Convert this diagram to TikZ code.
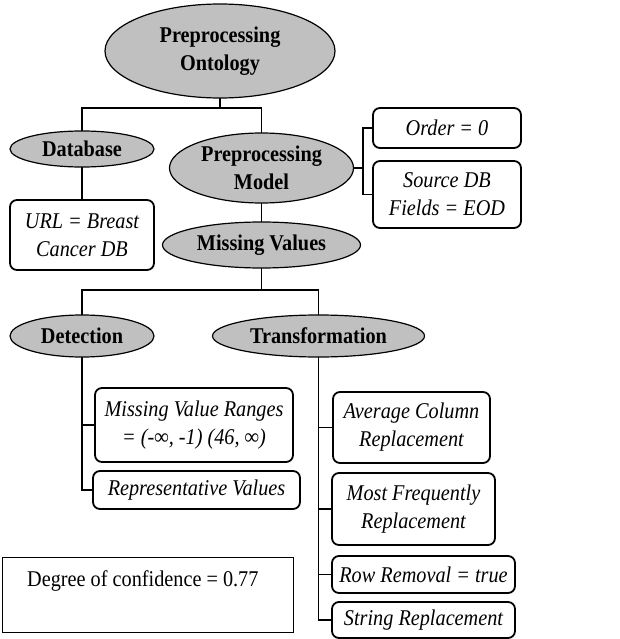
\documentclass[tikz,border=0pt]{standalone}
\usepackage{fontspec}
\setmainfont[FakeStretch=0.9]{Liberation Serif}
\usetikzlibrary{shapes.geometric}
\definecolor{ellfill}{HTML}{C0C0C0}
\tikzset{
  ell/.style={ellipse, draw=black, line width=1.2pt, fill=ellfill, inner sep=0pt, align=center,
     font=\fontsize{22.5}{28}\selectfont\bfseries},
  rbox/.style={rectangle, rounded corners=7pt, draw=black, line width=1.8pt, fill=white, inner sep=0pt, align=center,
     font=\fontsize{22.5}{28}\selectfont\itshape},
  conn/.style={line width=1.8pt, line cap=rect},
  plainbox/.style={rectangle, draw=black, line width=1pt, inner sep=0pt},
  plaintext/.style={inner sep=0pt, font=\fontsize{22.5}{28}\selectfont}
}
\begin{document}
\begin{tikzpicture}[x=1pt,y=-1pt]
\useasboundingbox (0,0) rectangle (619,639);
% ellipses
\node[ell, minimum width=230pt, minimum height=94pt] (ont) at (220,51) {Preprocessing\\Ontology};
\node[ell, minimum width=144pt, minimum height=36pt] (db) at (82,149) {Database};
\node[ell, minimum width=184pt, minimum height=70pt] (pm) at (261.5,168) {Preprocessing\\Model};
\node[ell, minimum width=198pt, minimum height=46pt] (mv) at (261.5,245) {Missing Values};
\node[ell, minimum width=144pt, minimum height=42pt] (det) at (82,336) {Detection};
\node[ell, minimum width=212pt, minimum height=42pt] (tr) at (318.5,336) {Transformation};
% boxes
\node[rbox, minimum width=144pt, minimum height=70pt] (url) at (82,235) {URL = Breast\\Cancer DB};
\node[rbox, minimum width=148pt, minimum height=40pt] (order) at (447,128) {Order = 0};
\node[rbox, minimum width=148pt, minimum height=67pt] (src) at (447,194.5) {Source DB\\Fields = EOD};
\node[rbox, minimum width=198pt, minimum height=74pt] (mvr) at (194,425) {Missing Value Ranges\\= (-∞, -1) (46, ∞)};
\node[rbox, minimum width=207pt, minimum height=38pt] (rep) at (196.5,490) {Representative Values};
\node[rbox, minimum width=157pt, minimum height=71pt] (avg) at (411.5,427.5) {Average Column\\Replacement};
\node[rbox, minimum width=163pt, minimum height=72pt] (mf) at (413.5,509) {Most Frequently\\Replacement};
\node[rbox, minimum width=183pt, minimum height=37pt] (row) at (423.5,574.5) {Row Removal = true};
\node[rbox, minimum width=183pt, minimum height=36pt] (str) at (423.5,620) {String Replacement};
% confidence box
\node[plainbox, minimum width=291pt, minimum height=75pt] (conf) at (147.5,594.5) {};
\node[plaintext, anchor=west] (conftext) at (27,581) {Degree of confidence = 0.77};
% connectors
\coordinate (j1) at (220,108);
\draw[conn] (ont.south) -- (j1);
\draw[conn] (db.north) -- (db.north |- j1) -- (pm.north |- j1) -- (pm.north);
\draw[conn] (db.south) -- (url.north);
\coordinate (j2) at (363,168);
\draw[conn] (pm.east) -- (j2);
\draw[conn] (order.west) -- (j2 |- order.west) -- (j2 |- src.west) -- (src.west);
\draw[conn] (pm.south) -- (mv.north);
\coordinate (j3) at (261.5,290);
\draw[conn] (mv.south) -- (j3);
\draw[conn] (det.north) -- (det.north |- j3) -- (tr.north |- j3) -- (tr.north);
\draw[conn] (det.south) |- (mvr.west);
\draw[conn] (det.south) |- (rep.west);
\draw[conn] (tr.south) |- (avg.west);
\draw[conn] (tr.south) |- (mf.west);
\draw[conn] (tr.south) |- (row.west);
\draw[conn] (tr.south) |- (str.west);
\end{tikzpicture}
\end{document}
